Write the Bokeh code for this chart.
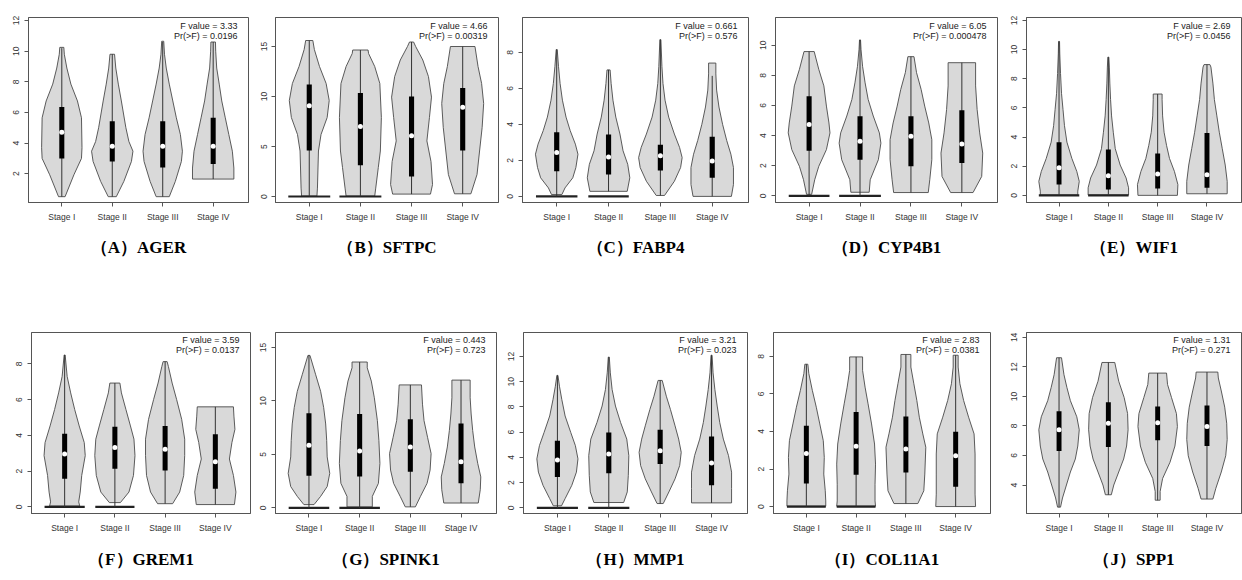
from bokeh.plotting import figure
from bokeh.models import Range1d, FixedTicker, Label
from bokeh.layouts import row, column
from bokeh.embed import file_html
from bokeh.resources import INLINE

stages = ["Stage I", "Stage II", "Stage III", "Stage IV"]
letters = ["A", "B", "C", "D", "E", "F", "G", "H", "I", "J"]
genes = ["AGER", "SFTPC", "FABP4", "CYP4B1", "WIF1", "GREM1", "SPINK1", "MMP1", "COL11A1", "SPP1"]
f_values = ["3.33", "4.66", "0.661", "6.05", "2.69", "3.59", "0.443", "3.21", "2.83", "1.31"]
p_values = ["0.0196", "0.00319", "0.576", "0.000478", "0.0456", "0.0137", "0.723", "0.023", "0.0381", "0.271"]
y_limits = [(0.12, 12.2), (-0.6, 17.9), (-0.34, 9.93), (-0.44, 11.84), (-0.49, 12.2),
            (-0.37, 9.76), (-0.52, 16.4), (-0.45, 13.9), (-0.37, 9.27), (2.07, 14.33)]
y_ticks = [[2, 4, 6, 8, 10, 12], [0, 5, 10, 15], [0, 2, 4, 6, 8], [0, 2, 4, 6, 8, 10], [0, 2, 4, 6, 8, 10, 12],
           [0, 2, 4, 6, 8], [0, 5, 10, 15], [0, 2, 4, 6, 8, 10, 12], [0, 2, 4, 6, 8], [4, 6, 8, 10, 12, 14]]

# violin outlines: y levels (bottom -> top) and half widths; box = (q1, median, q3, low, high); zero = half width of bar at 0
AGER_y = [[0.5, 1.93, 3.0, 3.7, 5.65, 6.75, 7.85, 8.9, 9.8, 10.25],
          [0.5, 1.5, 2.8, 3.47, 4.1, 5.0, 6.75, 7.85, 8.9, 9.8],
          [0.5, 1.5, 2.8, 3.47, 4.56, 5.65, 6.75, 7.85, 8.9, 9.8, 10.65],
          [1.65, 2.37, 3.47, 4.56, 5.65, 6.75, 7.85, 8.9, 10.0, 10.6]]
AGER_w = [[0.065, 0.24, 0.39, 0.40, 0.39, 0.31, 0.18, 0.10, 0.05, 0.04],
          [0.08, 0.23, 0.38, 0.41, 0.33, 0.27, 0.18, 0.12, 0.07, 0.045],
          [0.13, 0.25, 0.37, 0.39, 0.35, 0.27, 0.2, 0.13, 0.07, 0.035, 0.02],
          [0.41, 0.41, 0.38, 0.31, 0.24, 0.17, 0.12, 0.07, 0.05, 0.045]]
AGER_box = [(3.0, 4.7, 6.35, 0.5, 10.2), (2.8, 3.8, 5.43, 0.5, 9.8), (2.4, 3.8, 5.43, 0.5, 10.6), (2.63, 3.8, 5.65, 1.65, 10.6)]
AGER_zero = [0, 0, 0, 0]

SFTPC_y = [[0.05, 0.84, 4.55, 6.2, 7.9, 9.6, 11.3, 13.0, 14.7, 15.6],
           [0.05, 0.84, 2.9, 4.55, 7.9, 11.3, 13.0, 14.3, 14.65],
           [0.24, 1.2, 3.5, 5.56, 7.9, 9.94, 12.0, 13.65, 15.0, 15.45],
           [0.27, 2.2, 4.55, 6.9, 9.3, 11.3, 13.0, 15.0]]
SFTPC_w = [[0.15, 0.16, 0.18, 0.23, 0.35, 0.39, 0.33, 0.2, 0.1, 0.07],
           [0.28, 0.3, 0.35, 0.39, 0.41, 0.38, 0.28, 0.16, 0.15],
           [0.37, 0.41, 0.38, 0.30, 0.35, 0.39, 0.33, 0.22, 0.08, 0.04],
           [0.16, 0.28, 0.33, 0.38, 0.41, 0.37, 0.3, 0.24]]
SFTPC_box = [(4.6, 9.07, 11.2, 0, 15.6), (3.13, 7.0, 10.35, 0, 14.65), (2.0, 6.07, 10.0, 0.24, 15.45), (4.6, 8.93, 10.85, 0.27, 15.0)]
SFTPC_zero = [0.41, 0.41, 0, 0]

FABP4_y = [[0.1, 0.47, 1.03, 1.6, 2.34, 2.9, 3.65, 4.4, 5.34, 6.27, 7.2, 8.15],
           [0.28, 1.03, 1.78, 2.53, 3.46, 4.4, 5.34, 6.27, 7.02],
           [0.05, 0.84, 1.6, 2.15, 2.72, 3.46, 4.4, 5.34, 6.27, 7.2, 8.7],
           [0, 0.66, 1.6, 2.34, 3.1, 4.0, 4.96, 5.9, 6.8, 7.4]]
FABP4_w = [[0.1, 0.16, 0.31, 0.37, 0.41, 0.36, 0.26, 0.18, 0.11, 0.065, 0.035, 0.01],
           [0.36, 0.41, 0.37, 0.28, 0.22, 0.14, 0.085, 0.05, 0.03],
           [0.08, 0.27, 0.39, 0.42, 0.37, 0.27, 0.16, 0.09, 0.05, 0.03, 0.01],
           [0.37, 0.41, 0.41, 0.36, 0.28, 0.2, 0.13, 0.085, 0.07, 0.07]]
FABP4_box = [(1.4, 2.43, 3.56, 0, 8.15), (1.22, 2.19, 3.43, 0.28, 7.02), (1.44, 2.25, 2.86, 0.05, 8.7), (1.03, 1.97, 3.31, 0, 6.69)]
FABP4_zero = [0.4, 0.39, 0, 0]

CYP4B1_y = [[0.1, 1.07, 1.96, 3.07, 4.18, 4.84, 5.96, 7.3, 8.4, 9.58],
            [0.24, 1.07, 2.4, 3.5, 4.18, 5.3, 6.4, 7.5, 8.6, 9.7, 10.35],
            [0.22, 1.07, 2.4, 3.73, 4.84, 5.96, 7.07, 8.18, 9.24],
            [0.22, 1.29, 2.84, 4.18, 5.73, 7.3, 8.84]]
CYP4B1_w = [[0.05, 0.11, 0.19, 0.34, 0.41, 0.39, 0.34, 0.29, 0.19, 0.1],
            [0.18, 0.2, 0.36, 0.41, 0.38, 0.26, 0.16, 0.1, 0.05, 0.02, 0.01],
            [0.34, 0.37, 0.41, 0.41, 0.35, 0.27, 0.2, 0.11, 0.06],
            [0.22, 0.39, 0.41, 0.35, 0.3, 0.27, 0.27]]
CYP4B1_box = [(3.0, 4.73, 6.62, 0, 9.58), (2.4, 3.62, 5.29, 0, 10.35), (1.96, 3.96, 5.29, 0.22, 9.24), (2.18, 3.44, 5.69, 0.22, 8.84)]
CYP4B1_zero = [0.4, 0.41, 0, 0]

WIF1_y = [[0.02, 0.29, 0.96, 1.64, 2.53, 3.65, 4.78, 5.9, 7.0, 8.36, 9.7, 10.56],
          [0.02, 0.52, 1.19, 2.08, 3.2, 4.33, 5.45, 6.57, 7.7, 8.8, 9.48],
          [0, 0.74, 1.64, 2.53, 3.43, 4.33, 5.45, 6.57, 6.95],
          [0.11, 0.96, 2.08, 3.2, 4.33, 5.45, 6.57, 7.7, 8.8, 8.97]]
WIF1_w = [[0.38, 0.38, 0.41, 0.36, 0.26, 0.16, 0.11, 0.08, 0.05, 0.03, 0.015, 0.01],
          [0.41, 0.41, 0.36, 0.24, 0.14, 0.1, 0.065, 0.045, 0.03, 0.02, 0.01],
          [0.4, 0.41, 0.34, 0.24, 0.18, 0.13, 0.1, 0.09, 0.09],
          [0.41, 0.41, 0.37, 0.31, 0.25, 0.2, 0.15, 0.12, 0.08, 0.06]]
WIF1_box = [(0.74, 1.9, 3.65, 0, 10.56), (0.4, 1.35, 3.14, 0, 9.48), (0.47, 1.46, 2.87, 0, 6.95), (0.52, 1.41, 4.28, 0.11, 8.97)]
WIF1_zero = [0.41, 0.41, 0, 0]

GREM1_y = [[0.05, 0.28, 0.83, 1.76, 2.87, 3.6, 4.53, 5.45, 6.38, 7.3, 8.5],
           [0.24, 0.83, 1.76, 2.87, 3.79, 4.53, 5.45, 6.38, 6.93],
           [0.18, 0.83, 1.76, 2.87, 3.79, 4.9, 6.0, 6.93, 7.86, 8.13],
           [0.13, 0.83, 1.76, 2.68, 3.6, 4.34, 5.08, 5.6]]
GREM1_w = [[0.3, 0.28, 0.31, 0.34, 0.41, 0.39, 0.29, 0.2, 0.12, 0.05, 0.01],
           [0.11, 0.28, 0.37, 0.4, 0.38, 0.31, 0.22, 0.13, 0.1],
           [0.15, 0.29, 0.37, 0.39, 0.39, 0.33, 0.23, 0.14, 0.065, 0.04],
           [0.38, 0.41, 0.36, 0.28, 0.33, 0.39, 0.37, 0.36]]
GREM1_box = [(1.57, 2.96, 4.1, 0, 8.5), (2.13, 3.33, 4.49, 0, 6.93), (2.03, 3.23, 4.53, 0.18, 8.13), (1.02, 2.53, 4.07, 0.13, 5.6)]
GREM1_zero = [0.4, 0.39, 0, 0]

SPINK1_y = [[0.31, 1.08, 2.0, 3.23, 4.77, 6.3, 7.85, 9.4, 10.9, 12.5, 14.26],
            [0.1, 1.08, 2.3, 4.16, 6.3, 8.16, 10.3, 11.86, 13.1, 13.64],
            [0.1, 1.08, 2.3, 3.54, 5.08, 6.6, 8.16, 9.7, 11.5],
            [0.46, 1.7, 2.9, 4.16, 5.7, 7.24, 8.78, 10.3, 11.95]]
SPINK1_w = [[0.1, 0.23, 0.36, 0.41, 0.36, 0.35, 0.33, 0.29, 0.23, 0.13, 0.02],
            [0.25, 0.25, 0.37, 0.4, 0.38, 0.35, 0.29, 0.23, 0.15, 0.15],
            [0.1, 0.2, 0.33, 0.39, 0.41, 0.34, 0.27, 0.24, 0.22],
            [0.34, 0.38, 0.39, 0.33, 0.27, 0.23, 0.2, 0.18, 0.18]]
SPINK1_box = [(3.02, 5.85, 8.84, 0, 14.26), (2.93, 5.33, 8.78, 0, 13.64), (3.39, 5.7, 8.3, 0.1, 11.5), (2.31, 4.31, 7.9, 0.46, 11.95)]
SPINK1_zero = [0.4, 0.4, 0, 0]

MMP1_y = [[0.16, 0.73, 1.78, 2.83, 3.88, 4.93, 5.97, 7.28, 8.6, 9.64, 10.5],
          [0.42, 1.26, 2.57, 4.14, 5.45, 6.76, 8.07, 9.38, 10.7, 11.95],
          [0.34, 1.26, 2.3, 3.35, 4.4, 5.45, 6.5, 7.8, 8.85, 10.1],
          [0.39, 1.52, 2.83, 4.14, 5.45, 6.76, 8.07, 9.38, 10.7, 12.1]]
MMP1_w = [[0.08, 0.15, 0.28, 0.37, 0.4, 0.35, 0.26, 0.15, 0.085, 0.04, 0.01],
          [0.29, 0.36, 0.38, 0.39, 0.35, 0.23, 0.13, 0.065, 0.03, 0.01],
          [0.06, 0.17, 0.29, 0.38, 0.41, 0.36, 0.29, 0.2, 0.12, 0.04],
          [0.39, 0.39, 0.39, 0.33, 0.23, 0.16, 0.11, 0.065, 0.03, 0.01]]
MMP1_box = [(2.44, 3.8, 5.32, 0, 10.5), (2.75, 4.27, 5.97, 0, 11.95), (3.48, 4.53, 6.18, 0.34, 10.1), (1.78, 3.56, 5.66, 0.39, 12.1)]
MMP1_zero = [0.4, 0.4, 0, 0]

COL11A1_y = [[0.02, 0.3, 0.84, 1.73, 2.62, 3.51, 4.4, 5.29, 6.19, 7.08, 7.58],
             [0.02, 0.3, 1.19, 2.26, 3.33, 4.4, 5.47, 6.36, 7.25, 7.97],
             [0.16, 0.84, 1.73, 3.16, 3.87, 4.76, 5.65, 6.54, 7.43, 8.1],
             [0, 0.66, 1.73, 2.8, 3.87, 4.76, 5.65, 6.54, 7.43, 8.06]]
COL11A1_w = [[0.39, 0.39, 0.38, 0.35, 0.36, 0.34, 0.27, 0.2, 0.12, 0.05, 0.03],
             [0.39, 0.38, 0.38, 0.39, 0.37, 0.31, 0.24, 0.18, 0.13, 0.13],
             [0.24, 0.36, 0.38, 0.4, 0.34, 0.27, 0.22, 0.16, 0.1, 0.1],
             [0.4, 0.39, 0.39, 0.39, 0.37, 0.26, 0.16, 0.085, 0.05, 0.05]]
COL11A1_box = [(1.23, 2.83, 4.31, 0, 7.58), (1.69, 3.21, 5.03, 0, 7.97), (1.82, 3.07, 4.79, 0.16, 8.1), (1.05, 2.71, 3.99, 0, 8.06)]
COL11A1_zero = [0.39, 0.39, 0, 0]

SPP1_y = [[2.5, 3.12, 4.0, 4.88, 5.76, 6.64, 7.74, 8.62, 9.71, 10.6, 11.47, 12.62],
          [3.34, 4.0, 4.88, 5.76, 6.64, 7.74, 8.84, 9.93, 11.03, 12.3],
          [2.97, 3.56, 4.44, 5.54, 6.64, 7.96, 8.84, 9.93, 10.81, 11.58],
          [3.05, 3.78, 4.88, 5.98, 7.08, 8.18, 9.27, 10.37, 11.25, 11.65]]
SPP1_w = [[0.03, 0.07, 0.15, 0.23, 0.33, 0.38, 0.41, 0.36, 0.23, 0.16, 0.1, 0.05],
          [0.06, 0.11, 0.21, 0.31, 0.37, 0.4, 0.39, 0.32, 0.21, 0.13],
          [0.05, 0.05, 0.1, 0.25, 0.35, 0.4, 0.38, 0.28, 0.2, 0.18],
          [0.12, 0.18, 0.29, 0.38, 0.41, 0.4, 0.36, 0.29, 0.23, 0.22]]
SPP1_box = [(6.3, 7.74, 8.99, 2.5, 12.62), (6.57, 8.18, 9.6, 3.34, 12.3), (7.03, 8.22, 9.32, 2.97, 11.58), (6.64, 7.96, 9.38, 3.05, 11.65)]
SPP1_zero = [0, 0, 0, 0]

shape_y = [AGER_y, SFTPC_y, FABP4_y, CYP4B1_y, WIF1_y, GREM1_y, SPINK1_y, MMP1_y, COL11A1_y, SPP1_y]
shape_w = [AGER_w, SFTPC_w, FABP4_w, CYP4B1_w, WIF1_w, GREM1_w, SPINK1_w, MMP1_w, COL11A1_w, SPP1_w]
boxes = [AGER_box, SFTPC_box, FABP4_box, CYP4B1_box, WIF1_box, GREM1_box, SPINK1_box, MMP1_box, COL11A1_box, SPP1_box]
zeros = [AGER_zero, SFTPC_zero, FABP4_zero, CYP4B1_zero, WIF1_zero, GREM1_zero, SPINK1_zero, MMP1_zero, COL11A1_zero, SPP1_zero]

# layout (width, border left, border right) per panel
layout_row1 = [(255, 28, 7), (247, 20, 4), (253, 20, 7), (251, 20, 9), (236, 20, 1)]
layout_row2 = [(255, 31, 5), (248, 20, 7), (250, 20, 6), (253, 20, 16), (236, 20, 1)]
ROW1 = dict(h=300, bt=17, fh=185, standoff=22)
ROW2 = dict(h=280, bt=32, fh=183, standoff=24)
X0, X1 = 0.34, 4.7

SANS = "Liberation Sans"


def make_panel(i, w, bl, br, h, bt, fh, standoff):
    y0, y1 = y_limits[i]
    bb = h - bt - fh
    p = figure(width=w, height=h, output_backend="svg", toolbar_location=None,
               x_range=Range1d(X0, X1), y_range=Range1d(y0, y1),
               min_border_left=bl, min_border_right=br, min_border_top=bt, min_border_bottom=bb,
               title_location="below")
    p.xgrid.visible = False
    p.ygrid.visible = False
    p.background_fill_color = "white"
    p.border_fill_color = "white"
    p.outline_line_color = "#555555"
    p.outline_line_width = 1

    xs_all, ys_all = [], []
    for k in range(4):
        c = k + 1
        ys = shape_y[i][k]
        ws = shape_w[i][k]
        xs_all.append([c - v for v in ws] + [c + v for v in reversed(ws)])
        ys_all.append(list(ys) + list(reversed(ys)))
    p.patches(xs_all, ys_all, fill_color="#d9d9d9", line_color="#4a4a4a", line_width=0.9)

    zx0, zx1, zy = [], [], []
    for k in range(4):
        if zeros[i][k] > 0:
            zx0.append(k + 1 - zeros[i][k])
            zx1.append(k + 1 + zeros[i][k])
            zy.append(0)
    if zx0:
        p.segment(x0=zx0, y0=zy, x1=zx1, y1=zy, line_color="#222222", line_width=2.2)

    cx = [1, 2, 3, 4]
    q1 = [b[0] for b in boxes[i]]
    med = [b[1] for b in boxes[i]]
    q3 = [b[2] for b in boxes[i]]
    lo = [b[3] for b in boxes[i]]
    hi = [b[4] for b in boxes[i]]
    p.segment(x0=cx, y0=lo, x1=cx, y1=hi, line_color="#333333", line_width=1)
    p.vbar(x=cx, width=0.1, bottom=q1, top=q3, fill_color="black", line_color=None)
    p.scatter(x=cx, y=med, size=5, fill_color="white", line_color=None)

    p.xaxis.ticker = FixedTicker(ticks=cx)
    p.xaxis.major_label_overrides = {c: s for c, s in zip(cx, stages)}
    p.yaxis.ticker = FixedTicker(ticks=y_ticks[i])
    p.yaxis.major_label_orientation = "vertical"
    for ax in (p.xaxis[0], p.yaxis[0]):
        ax.minor_tick_line_color = None
        ax.major_tick_in = 0
        ax.major_tick_out = 4
        ax.major_label_standoff = 5
        ax.major_label_text_font = SANS
        ax.major_label_text_font_size = "8.5px"
        ax.major_label_text_color = "#333333"
        ax.axis_line_color = "#555555"
        ax.major_tick_line_color = "#555555"

    fw = w - bl - br
    px_y = (y1 - y0) / fh
    xr = X1 - 11 * (X1 - X0) / fw
    p.add_layout(Label(x=xr, y=y1 - 8 * px_y, text="F value = " + f_values[i],
                       text_align="right", text_baseline="middle", text_font=SANS,
                       text_font_size="9px", text_color="#222222"))
    p.add_layout(Label(x=xr, y=y1 - 18 * px_y, text="Pr(>F) = " + p_values[i],
                       text_align="right", text_baseline="middle", text_font=SANS,
                       text_font_size="9px", text_color="#222222"))

    p.title.text = "（" + letters[i] + "）" + genes[i]
    p.title.text_font = "Liberation Serif"
    p.title.text_font_style = "bold"
    p.title.text_font_size = "17px"
    p.title.align = "center"
    p.title.text_color = "black"
    p.title.standoff = standoff
    return p


figs1 = [make_panel(i, *layout_row1[i], **ROW1) for i in range(5)]
figs2 = [make_panel(i + 5, *layout_row2[i], **ROW2) for i in range(5)]

page = column(row(*figs1, spacing=0), row(*figs2, spacing=0), spacing=0)
open("out.html", "w").write(file_html(page, INLINE))
